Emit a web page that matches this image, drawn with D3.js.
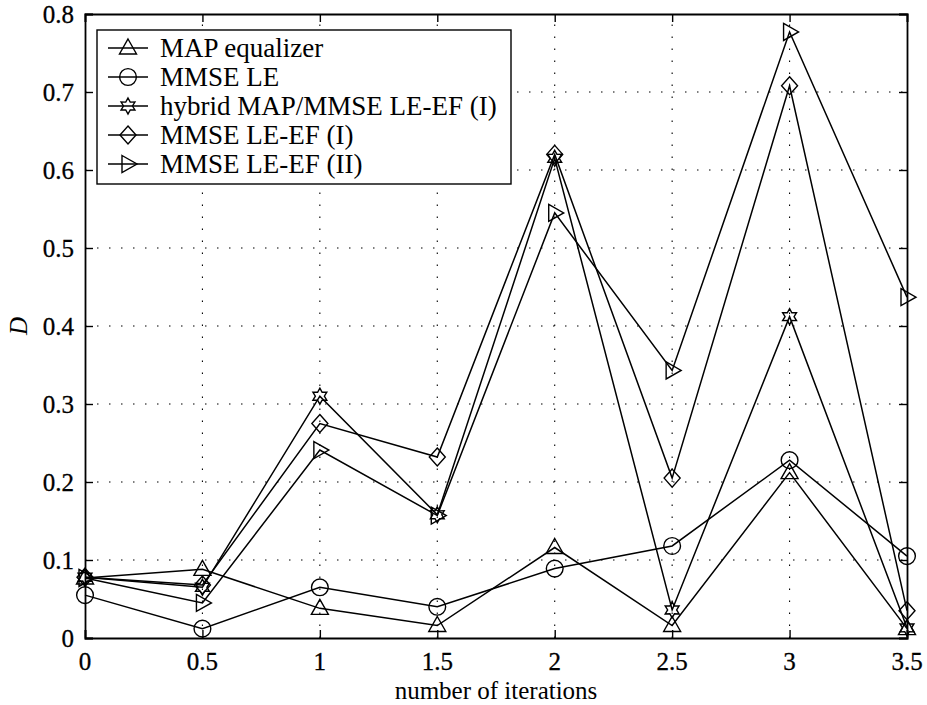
<!DOCTYPE html>
<html><head><meta charset="utf-8">
<script src="https://cdn.jsdelivr.net/npm/d3@7"></script>
<style>body{margin:0;background:#fff}svg{display:block}text{font-family:"Liberation Serif","Times New Roman",serif;fill:#000}</style>
</head><body>
<script>
const iterations = [0, 0.5, 1, 1.5, 2, 2.5, 3, 3.5];
const mapEqualizer = [0.077, 0.088, 0.038, 0.016, 0.116, 0.016, 0.212, 0.012];
const mmseLE = [0.055, 0.012, 0.065, 0.040, 0.089, 0.118, 0.228, 0.105];
const hybridLEEF = [0.078, 0.065, 0.310, 0.158, 0.615, 0.036, 0.412, 0.013];
const mmseLEEF1 = [0.078, 0.068, 0.275, 0.232, 0.620, 0.205, 0.708, 0.035];
const mmseLEEF2 = [0.077, 0.045, 0.241, 0.157, 0.545, 0.343, 0.777, 0.437];
const seriesNames = ["MAP equalizer", "MMSE LE", "hybrid MAP/MMSE LE-EF (I)", "MMSE LE-EF (I)", "MMSE LE-EF (II)"];
const seriesMarkers = ["triUp", "circle", "hexagram", "diamond", "triRight"];
const xTicks = [0, 0.5, 1, 1.5, 2, 2.5, 3, 3.5];
const yTicks = [0, 0.1, 0.2, 0.3, 0.4, 0.5, 0.6, 0.7, 0.8];

const series = [mapEqualizer, mmseLE, hybridLEEF, mmseLEEF1, mmseLEEF2];
const W = 927, H = 705;
const m = {left: 85, right: 20, top: 14, bottom: 67};
const svg = d3.select("body").append("svg").attr("width", W).attr("height", H);
const x = d3.scaleLinear().domain([0, 3.5]).range([m.left, W - m.right]);
const y = d3.scaleLinear().domain([0, 0.8]).range([H - m.bottom, m.top]);

// grid
const g = svg.append("g");
g.selectAll(".gx").data(xTicks.slice(1, -1)).enter().append("line")
  .attr("x1", d => x(d)).attr("x2", d => x(d)).attr("y1", y(0)).attr("y2", y(0.8))
  .attr("stroke", "#000").attr("stroke-width", 1.1).attr("stroke-dasharray", "1.5,10.5");
g.selectAll(".gy").data(yTicks.slice(1, -1)).enter().append("line")
  .attr("y1", d => y(d)).attr("y2", d => y(d)).attr("x1", x(0)).attr("x2", x(3.5))
  .attr("stroke", "#000").attr("stroke-width", 1.1).attr("stroke-dasharray", "1.5,10.5");

// axes (ticks inward on all sides)
const fmt = d => d === 0 ? "0" : d3.format("")(d);
const axB = svg.append("g").attr("transform", `translate(0,${y(0)})`)
  .call(d3.axisTop(x).tickValues(xTicks).tickSize(8).tickFormat(""));
const axT = svg.append("g").attr("transform", `translate(0,${y(0.8)})`)
  .call(d3.axisBottom(x).tickValues(xTicks).tickSize(8).tickFormat(""));
const axL = svg.append("g").attr("transform", `translate(${x(0)},0)`)
  .call(d3.axisRight(y).tickValues(yTicks).tickSize(8).tickFormat(""));
const axR = svg.append("g").attr("transform", `translate(${x(3.5)},0)`)
  .call(d3.axisLeft(y).tickValues(yTicks).tickSize(8).tickFormat(""));
[axB, axT, axL, axR].forEach(a => {
  a.selectAll("path").attr("stroke", "#000").attr("stroke-width", 1.8);
  a.selectAll("line").attr("stroke", "#000").attr("stroke-width", 1.4);
});
// tick labels
svg.append("g").selectAll("text").data(xTicks).enter().append("text")
  .attr("x", d => x(d)).attr("y", y(0) + 32).attr("text-anchor", "middle")
  .attr("font-size", 25).attr("stroke", "#000").attr("stroke-width", 0.3).text(fmt);
svg.append("g").selectAll("text").data(yTicks).enter().append("text")
  .attr("x", x(0) - 11).attr("y", d => y(d) + 9).attr("text-anchor", "end")
  .attr("font-size", 25).attr("stroke", "#000").attr("stroke-width", 0.3).text(fmt);
svg.append("text").attr("x", (x(0) + x(3.5)) / 2).attr("y", H - 6).attr("text-anchor", "middle")
  .attr("font-size", 25).text("number of iterations");
svg.append("text").attr("transform", `translate(27,${(y(0) + y(0.8)) / 2}) rotate(-90)`)
  .attr("text-anchor", "middle").attr("font-size", 25).attr("font-style", "italic").text("D");

// markers
function markerPath(type) {
  switch (type) {
    case "triUp": return "M0,-9L8.5,6L-8.5,6Z";
    case "circle": return d3.symbol(d3.symbolCircle, 220)();
    case "diamond": return "M0,-9L8,0L0,9L-8,0Z";
    case "triRight": return "M-6,-8.5L9,0L-6,8.5Z";
    case "hexagram": {
      const r1 = 8, r2 = 4.5; let p = "";
      for (let i = 0; i < 12; i++) {
        const a = -Math.PI / 2 + i * Math.PI / 6, r = i % 2 ? r2 : r1;
        p += (i ? "L" : "M") + (r * Math.cos(a)).toFixed(2) + "," + (r * Math.sin(a)).toFixed(2);
      }
      return p + "Z";
    }
  }
}
const line = d3.line().x((d, i) => x(iterations[i])).y(d => y(d));
series.forEach((s, k) => {
  const sg = svg.append("g");
  sg.append("path").attr("d", line(s)).attr("fill", "none").attr("stroke", "#000").attr("stroke-width", 1.5);
  sg.selectAll("path.mk").data(s).enter().append("path").attr("class", "mk")
    .attr("transform", (d, i) => `translate(${x(iterations[i])},${y(d)})`)
    .attr("d", markerPath(seriesMarkers[k])).attr("fill", "none").attr("stroke", "#000").attr("stroke-width", 1.4);
});

// legend
const lg = svg.append("g");
const lx = 97, ly = 30, lw = 414, lh = 154;
lg.append("rect").attr("x", lx).attr("y", ly).attr("width", lw).attr("height", lh)
  .attr("fill", "#fff").attr("stroke", "#000").attr("stroke-width", 1.4);
seriesNames.forEach((name, k) => {
  const cy = ly + 18 + k * 29;
  lg.append("line").attr("x1", lx + 11).attr("x2", lx + 51).attr("y1", cy).attr("y2", cy)
    .attr("stroke", "#000").attr("stroke-width", 1.5);
  lg.append("path").attr("transform", `translate(${lx + 31},${cy})`).attr("d", markerPath(seriesMarkers[k]))
    .attr("fill", "none").attr("stroke", "#000").attr("stroke-width", 1.4);
  lg.append("text").attr("x", lx + 63).attr("y", cy + 9).attr("font-size", 27).text(name);
});
</script>
</body></html>
